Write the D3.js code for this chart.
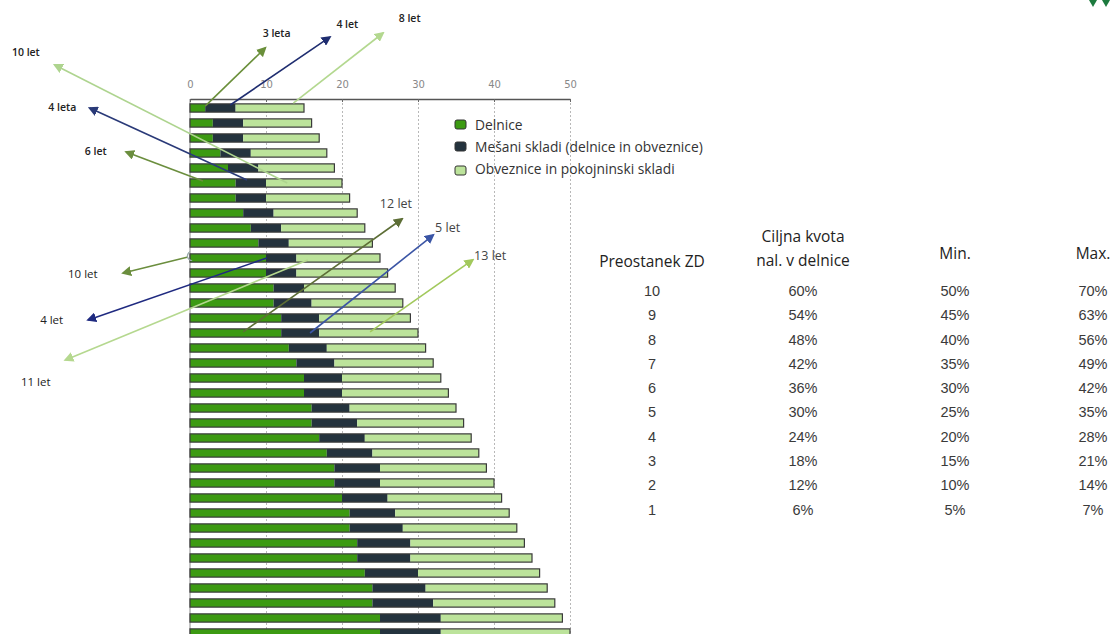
<!DOCTYPE html>
<html>
<head>
<meta charset="utf-8">
<script src="https://cdn.jsdelivr.net/npm/d3@7"></script>
<style>
  body { margin: 0; background: #fff; }
  svg text { font-family: "Open Sans", "Noto Sans", sans-serif; }
</style>
</head>
<body>
<div id="chart"></div>
<script>
//Chart data - one entry per bar, top to bottom
var delnice   = [2,3,3,4,5,6,6,7,8,9,10,10,11,11,12,12,13,14,15,15,16,16,17,18,19,19,20,21,21,22,22,23,24,24,25,25];
var mesani    = [4,4,4,4,4,4,4,4,4,4,4,4,4,5,5,5,5,5,5,5,5,6,6,6,6,6,6,6,7,7,7,7,7,8,8,8];
var obveznice = [9,9,10,10,10,10,11,11,11,11,11,12,12,12,12,13,13,13,13,14,14,14,14,14,14,15,15,15,15,15,16,16,16,16,16,17];
var seriesNames = ["Delnice", "Mešani skladi (delnice in obveznice)", "Obveznice in pokojninski skladi"];
var xTicks = [0,10,20,30,40,50];

//Arrow annotations, in data units (x value, bar row)
var arrowLabels = ["3 leta","4 let","8 let","10 let","4 leta","6 let","10 let","4 let","11 let","12 let","5 let","13 let"];
var arrowFrom   = [[2,-0.13],[5.3,-0.2],[13.6,-0.33],[12.8,5],[7.5,4.8],[1.7,4.87],[-0.26,9.93],[10.1,10],[15.5,10.13],[7,14.93],[15.8,15],[23.7,14.93]];
var arrowTo     = [[9.9,-4],[18.4,-4.73],[25.4,-5],[-17.8,-2.87],[-13.2,0],[-8.4,2.93],[-8.8,11],[-13.4,14.13],[-16.4,16.8],[27.9,7.4],[32,8.47],[37.2,10.13]];
var arrowText   = [[11.4,-5],[20.7,-5.55],[28.9,-6],[-21.6,-3.7],[-16.8,-0.07],[-12.4,2.87],[-14.1,11.07],[-18.2,14.13],[-20.3,18.27],[27.1,6.4],[33.9,8],[39.5,9.87]];

//Table data
var tableHeads = [["Preostanek ZD"], ["Ciljna kvota","nal. v delnice"], ["Min."], ["Max."]];
var tableYears = ["10","9","8","7","6","5","4","3","2","1"];
var tableCilj  = ["60%","54%","48%","42%","36%","30%","24%","18%","12%","6%"];
var tableMin   = ["50%","45%","40%","35%","30%","25%","20%","15%","10%","5%"];
var tableMax   = ["70%","63%","56%","49%","42%","35%","28%","21%","14%","7%"];

//Styles
var colors = ["#3c9a12", "#24333e", "#bce39b"];
var arrowColors = ["#6a8f3a","#1f2d70","#b3d88f","#aed48f","#2a3a78","#6b8e3e","#6b8e3e","#1f2a80","#b5d88f","#5d6e36","#3b55a5","#a2c95c"];
var labelStyle = ["top","top","top","top","top","top","mid","mid","mid","low","low","low"];

var W = 1112, H = 634;

var svg = d3.select("#chart").append("svg")
  .attr("width", W).attr("height", H);

//Scales
var x = d3.scaleLinear().domain([0, 50]).range([190, 570]);
var rows = d3.range(delnice.length);
var y = d3.scaleBand().domain(rows).range([100.5, 640.5]).paddingInner(0.45).paddingOuter(0.225);
//row position as a continuous scale for the annotations
var yRow = d3.scaleLinear().domain([0, rows.length - 1])
  .range([y(0) + y.bandwidth() / 2, y(rows.length - 1) + y.bandwidth() / 2]);

//Grid lines
svg.append("g").selectAll("line")
  .data(xTicks.slice(1))
  .enter().append("line")
    .attr("x1", function(d) { return x(d) + 0.5; })
    .attr("x2", function(d) { return x(d) + 0.5; })
    .attr("y1", 99).attr("y2", H)
    .attr("stroke", "#b8b8b8")
    .attr("stroke-dasharray", "2,2");

svg.append("line")
  .attr("x1", x(0)).attr("x2", x(0))
  .attr("y1", 99).attr("y2", H)
  .attr("stroke", "#8a8a8a");

//Stacked bars
var table = rows.map(function(i) {
  return { row: i, a: delnice[i], b: mesani[i], c: obveznice[i] };
});
var stack = d3.stack().keys(["a","b","c"])(table);

svg.append("g").selectAll("g")
  .data(stack)
  .enter().append("g")
    .attr("fill", function(d, i) { return colors[i]; })
  .selectAll("rect")
  .data(function(d) { return d; })
  .enter().append("rect")
    .attr("x", function(d) { return x(d[0]); })
    .attr("width", function(d) { return x(d[1]) - x(d[0]); })
    .attr("y", function(d) { return y(d.data.row); })
    .attr("height", y.bandwidth());

//Bar outlines
svg.append("g").selectAll("rect")
  .data(table)
  .enter().append("rect")
    .attr("x", x(0))
    .attr("y", function(d) { return y(d.row); })
    .attr("width", function(d) { return x(d.a + d.b + d.c) - x(0); })
    .attr("height", y.bandwidth())
    .attr("fill", "none")
    .attr("stroke", "#3a3a3a")
    .attr("stroke-width", 1.2);

//Top axis
var xAxis = d3.axisTop(x).tickValues(xTicks).tickSizeInner(-3).tickSizeOuter(0).tickPadding(11);
var axisG = svg.append("g")
  .attr("transform", "translate(0,99)")
  .call(xAxis);
axisG.select(".domain").attr("stroke", "#555").attr("stroke-width", 1.3);
axisG.selectAll(".tick line").attr("stroke", "#666");
axisG.selectAll(".tick text")
  .attr("fill", "#888")
  .attr("font-size", 10)
  .style("font-family", "'DejaVu Sans', sans-serif");

//Legend
var legend = svg.append("g").selectAll("g")
  .data(seriesNames)
  .enter().append("g")
    .attr("transform", function(d, i) { return "translate(455," + (125 + i * 22) + ")"; });
legend.append("rect")
  .attr("x", 0).attr("y", function(d, i) { return i === 2 ? -3 : -5; })
  .attr("width", 11).attr("height", 9)
  .attr("rx", 2)
  .attr("fill", function(d, i) { return colors[i]; })
  .attr("stroke", "#333").attr("stroke-width", 1);
legend.append("text")
  .attr("x", 20).attr("dy", "0.35em")
  .attr("font-size", 13.8)
  .attr("fill", "#333")
  .text(function(d) { return d; });

//Arrows
var defs = svg.append("defs");
arrowColors.forEach(function(c, i) {
  defs.append("marker")
    .attr("id", "head" + i)
    .attr("viewBox", "0 0 10 10")
    .attr("refX", 8).attr("refY", 5)
    .attr("markerWidth", 10).attr("markerHeight", 10)
    .attr("markerUnits", "userSpaceOnUse")
    .attr("orient", "auto")
    .append("path")
      .attr("d", "M0,0L10,5L0,10Z")
      .attr("fill", c);
});
defs.append("marker")
  .attr("id", "hook")
  .attr("viewBox", "0 0 10 10")
  .attr("refX", 5).attr("refY", 5)
  .attr("markerWidth", 10).attr("markerHeight", 10)
  .attr("markerUnits", "userSpaceOnUse")
  .attr("orient", "auto")
  .append("path")
    .attr("d", "M2,0 Q9,5 2,10")
    .attr("fill", "none")
    .attr("stroke", "#9aa")
    .attr("stroke-width", 1.3);

svg.append("g").selectAll("line")
  .data(arrowLabels)
  .enter().append("line")
    .attr("x1", function(d, i) { return x(arrowFrom[i][0]); })
    .attr("y1", function(d, i) { return yRow(arrowFrom[i][1]); })
    .attr("x2", function(d, i) { return x(arrowTo[i][0]); })
    .attr("y2", function(d, i) { return yRow(arrowTo[i][1]); })
    .attr("stroke", function(d, i) { return arrowColors[i]; })
    .attr("stroke-width", 1.6)
    .attr("marker-end", function(d, i) { return "url(#head" + i + ")"; })
    .attr("marker-start", function(d, i) { return i === 6 ? "url(#hook)" : null; });

svg.append("g").selectAll("text")
  .data(arrowLabels)
  .enter().append("text")
    .attr("x", function(d, i) { return x(arrowText[i][0]); })
    .attr("y", function(d, i) { return yRow(arrowText[i][1]); })
    .attr("dy", "0.35em")
    .attr("text-anchor", "middle")
    .attr("font-size", function(d, i) { return labelStyle[i] === "top" ? 10.5 : labelStyle[i] === "mid" ? 11.5 : 12.5; })
    .attr("font-weight", function(d, i) { return labelStyle[i] === "top" ? 600 : 400; })
    .attr("fill", function(d, i) { return labelStyle[i] === "low" ? "#444" : "#222"; })
    .text(function(d) { return d; });

//Table
var cols = [tableYears, tableCilj, tableMin, tableMax];
var colX = d3.scaleOrdinal().domain(d3.range(cols.length)).range([652, 803, 955, 1093]);
var rowY = d3.scalePoint().domain(tableYears).range([291, 509.5]);

var heads = svg.append("g").selectAll("text")
  .data(tableHeads)
  .enter().append("text")
    .attr("x", function(d, i) { return colX(i); })
    .attr("y", function(d) { return d.length === 2 ? 237 : (d[0] === "Preostanek ZD" ? 262 : 254); })
    .attr("text-anchor", "middle")
    .attr("font-size", 15.5)
    .attr("fill", "#222");
heads.selectAll("tspan")
  .data(function(d) { return d; })
  .enter().append("tspan")
    .attr("x", function() { return d3.select(this.parentNode).attr("x"); })
    .attr("dy", function(d, i) { return i === 0 ? "0.35em" : "1.55em"; })
    .text(function(d) { return d; });

svg.append("g").selectAll("g")
  .data(cols)
  .enter().append("g")
    .attr("transform", function(d, i) { return "translate(" + colX(i) + ",0)"; })
  .selectAll("text")
  .data(function(d) { return d.map(function(v, k) { return { v: v, k: tableYears[k] }; }); })
  .enter().append("text")
    .attr("y", function(d) { return rowY(d.k); })
    .attr("dy", "0.35em")
    .attr("text-anchor", "middle")
    .attr("font-size", 14.5)
    .attr("fill", "#3a3a3a")
    .style("font-family", "'Liberation Sans', Arial, sans-serif")
    .text(function(d) { return d.v; });

//Corner logo fragment
svg.append("g").attr("fill", "#1d7a3e").selectAll("path")
  .data([1093, 1106])
  .enter().append("path")
    .attr("d", function(d) { return "M" + (d - 4) + ",0L" + (d + 4) + ",0L" + d + ",7Z"; });
</script>
</body>
</html>
